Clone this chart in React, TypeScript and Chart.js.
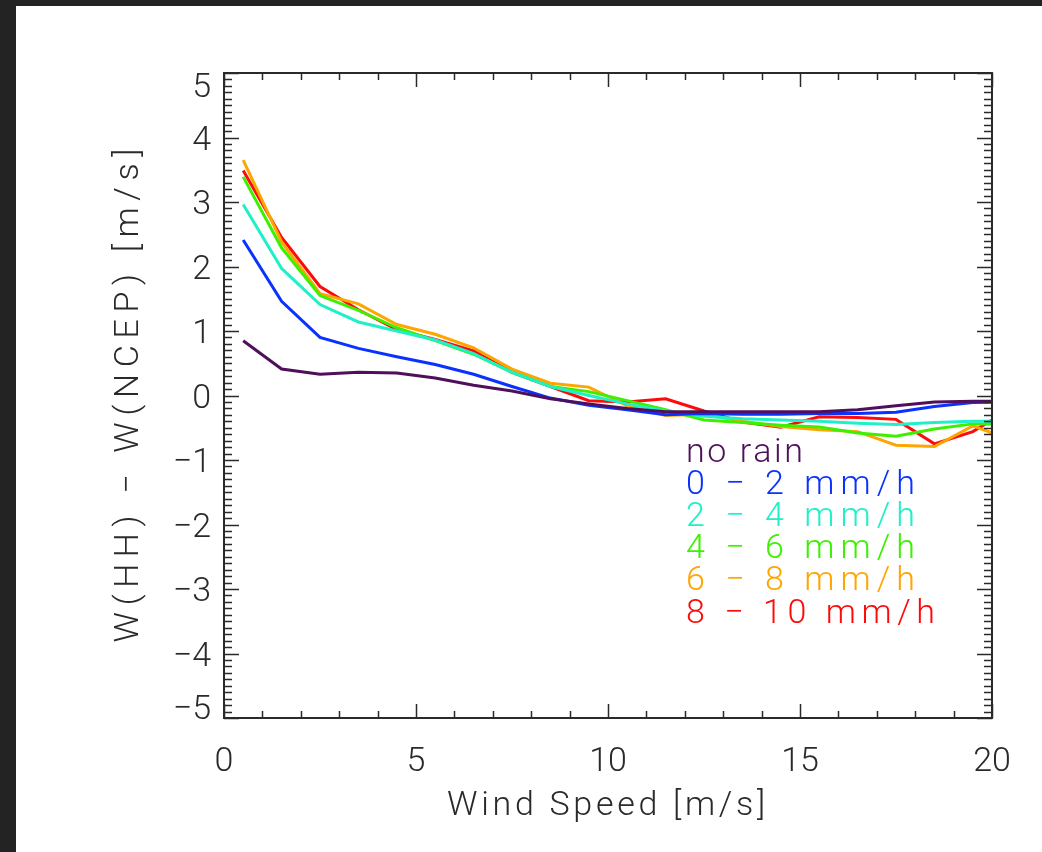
import { useEffect, useRef } from 'react';
import Chart from 'chart.js/auto';

// ---- data ----
const windSpeed = [0.5, 1.5, 2.5, 3.5, 4.5, 5.5, 6.5, 7.5, 8.5, 9.5, 10.5, 11.5, 12.5, 13.5, 14.5, 15.5, 16.5, 17.5, 18.5, 19.5, 20.5];

const noRain = [0.85, 0.41, 0.33, 0.36, 0.35, 0.27, 0.16, 0.07, -0.05, -0.13, -0.2, -0.25, -0.25, -0.25, -0.25, -0.25, -0.22, -0.16, -0.1, -0.09, -0.09];
const rain0to2 = [2.41, 1.46, 0.9, 0.73, 0.6, 0.48, 0.33, 0.14, -0.04, -0.15, -0.22, -0.3, -0.28, -0.29, -0.29, -0.28, -0.28, -0.26, -0.17, -0.11, -0.1];
const rain2to4 = [2.96, 1.97, 1.41, 1.14, 1.0, 0.86, 0.65, 0.36, 0.14, 0.0, -0.13, -0.24, -0.32, -0.36, -0.38, -0.4, -0.43, -0.45, -0.42, -0.4, -0.4];
const rain4to6 = [3.39, 2.29, 1.55, 1.32, 1.05, 0.85, 0.64, 0.36, 0.14, 0.06, -0.08, -0.22, -0.38, -0.42, -0.46, -0.49, -0.58, -0.63, -0.52, -0.44, -0.44];
const rain6to8 = [3.65, 2.38, 1.58, 1.42, 1.1, 0.95, 0.74, 0.41, 0.19, 0.13, -0.16, -0.31, -0.29, -0.4, -0.48, -0.53, -0.56, -0.77, -0.79, -0.47, -0.69];
const rain8to10 = [3.49, 2.45, 1.69, 1.33, 1.02, 0.87, 0.69, 0.36, 0.14, -0.08, -0.1, -0.05, -0.24, -0.41, -0.49, -0.33, -0.34, -0.37, -0.75, -0.56, -0.2];

const seriesLabels = ['no rain', '0 − 2 mm/h', '2 − 4 mm/h', '4 − 6 mm/h', '6 − 8 mm/h', '8 − 10 mm/h'];
const seriesValues = [noRain, rain0to2, rain2to4, rain4to6, rain6to8, rain8to10];
const seriesColors = ['#4f0f5a', '#0a32ff', '#1ef0c8', '#3cf000', '#ffa500', '#ff0a0a'];
const legendWidths = [117, 229, 229, 229, 229, 249];

const xTickValues = [0, 5, 10, 15, 20];
const xTickLabels = ['0', '5', '10', '15', '20'];
const yTickValues = [5, 4, 3, 2, 1, 0, -1, -2, -3, -4, -5];
const yTickLabels = ['5', '4', '3', '2', '1', '0', '−1', '−2', '−3', '−4', '−5'];
const xTitle = 'Wind Speed [m/s]';
const yTitle = 'W(HH) − W(NCEP) [m/s]';

const FONT = '300 34px Roboto, "DejaVu Sans", sans-serif';
const INK = '#2a2a2a';

function spacedText(ctx: CanvasRenderingContext2D, text: string, x0: number, y: number, targetWidth: number) {
  (ctx as any).letterSpacing = '0px';
  const w = ctx.measureText(text).width;
  const n = Array.from(text).length;
  const sp = n > 1 ? (targetWidth - w) / (n - 1) : 0;
  (ctx as any).letterSpacing = sp.toFixed(2) + 'px';
  ctx.textAlign = 'left';
  ctx.fillText(text, x0, y);
  (ctx as any).letterSpacing = '0px';
}

const idlAxes = {
  id: 'idlAxes',
  afterDatasetsDraw(chart: any) {
    const { ctx, chartArea: a } = chart;
    const x = chart.scales.x;
    const y = chart.scales.y;
    ctx.save();
    // frame
    ctx.strokeStyle = INK;
    ctx.lineWidth = 2;
    ctx.strokeRect(a.left, a.top, a.right - a.left, a.bottom - a.top);
    // inward ticks
    ctx.lineWidth = 1.5;
    ctx.beginPath();
    for (let v = 0; v <= 20; v++) {
      const px = Math.round(x.getPixelForValue(v)) + 0.5;
      const len = v % 5 === 0 ? 14 : 7;
      ctx.moveTo(px, a.bottom);
      ctx.lineTo(px, a.bottom - len);
      ctx.moveTo(px, a.top);
      ctx.lineTo(px, a.top + len);
    }
    for (let i = -50; i <= 50; i++) {
      const py = Math.round(y.getPixelForValue(i / 10)) + 0.5;
      const len = i % 10 === 0 ? 15 : 8;
      ctx.moveTo(a.left, py);
      ctx.lineTo(a.left + len, py);
      ctx.moveTo(a.right, py);
      ctx.lineTo(a.right - len, py);
    }
    ctx.stroke();

    // tick labels
    ctx.fillStyle = INK;
    ctx.font = FONT;
    ctx.textBaseline = 'alphabetic';
    ctx.textAlign = 'center';
    xTickValues.forEach((v, i) => {
      ctx.fillText(xTickLabels[i], x.getPixelForValue(v), a.bottom + 53);
    });
    ctx.textAlign = 'right';
    yTickValues.forEach((v, i) => {
      let base = y.getPixelForValue(v) + 12;
      if (base - 24 < a.top) base = a.top + 24;
      if (base > a.bottom + 1) base = a.bottom + 1;
      ctx.fillText(yTickLabels[i], a.left - 13, base);
    });

    // axis titles
    spacedText(ctx, xTitle, 606 - 159, 815, 318);
    ctx.save();
    ctx.translate(138, (a.top + a.bottom) / 2);
    ctx.rotate(-Math.PI / 2);
    spacedText(ctx, yTitle, -247, 0, 494);
    ctx.restore();

    // legend text
    seriesLabels.forEach((lab, i) => {
      ctx.fillStyle = seriesColors[i];
      spacedText(ctx, lab, 686, 462 + i * 32.1, legendWidths[i]);
    });
    ctx.restore();
  },
};

export default function App() {
  const ref = useRef<HTMLCanvasElement | null>(null);
  useEffect(() => {
    if (!ref.current) return;
    const chart = new Chart(ref.current, {
      type: 'line',
      data: {
        datasets: seriesValues.map((vals, i) => ({
          label: seriesLabels[i],
          data: windSpeed.map((w, j) => ({ x: w, y: vals[j] })),
          borderColor: seriesColors[i],
          backgroundColor: seriesColors[i],
          borderWidth: 3,
          pointRadius: 0,
          tension: 0,
          fill: false,
        })),
      },
      options: {
        animation: false,
        responsive: false,
        events: [],
        layout: { padding: { left: 224, top: 73, right: 50, bottom: 134 } },
        plugins: { legend: { display: false }, tooltip: { enabled: false } },
        scales: {
          x: { type: 'linear', min: 0, max: 20, display: false },
          y: { type: 'linear', min: -5, max: 5, display: false },
        },
      },
      plugins: [idlAxes],
    });
    return () => chart.destroy();
  }, []);
  return (
    <div style={{ position: 'fixed', left: 0, top: 0, width: 1042, height: 852, background: '#232323', overflow: 'hidden' }}>
      <div style={{ position: 'absolute', left: 16, top: 6, right: 0, bottom: 0, background: '#ffffff' }} />
      <canvas ref={ref} width={1042} height={852} style={{ position: 'absolute', left: 0, top: 0, width: 1042, height: 852 }} />
    </div>
  );
}
